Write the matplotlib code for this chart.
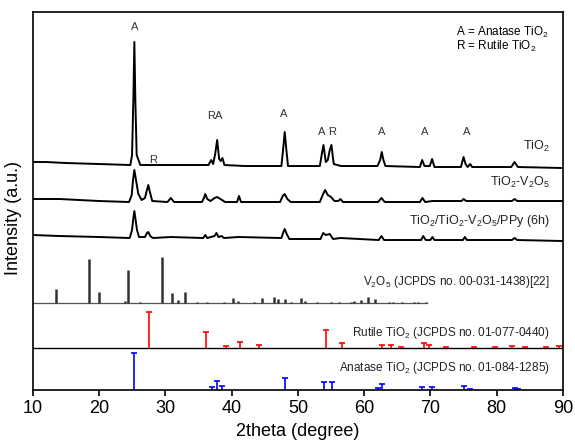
import matplotlib
matplotlib.use("Agg")
from matplotlib import pyplot as plt

plt.rcParams['font.family'] = ['Liberation Sans', 'DejaVu Sans']

# measured patterns (2theta, intensity offset a.u.)
tio2_x = [10, 12, 15, 20, 24.7, 24.95, 25.15, 25.3, 25.45, 25.65, 26.2, 30, 34, 36.5, 36.9, 37.2,
          37.5, 37.8, 38.1, 38.35, 38.6, 38.9, 42, 47.5, 47.75, 48.0, 48.25, 48.5, 53.3, 53.6, 53.85,
          54.2, 54.5, 54.8, 55.05, 55.4, 56.5, 62.0, 62.4, 62.65, 62.9, 63.2, 68.4, 68.75, 69.1, 69.9,
          70.25, 70.6, 74.6, 74.8, 75.0, 75.3, 75.6, 76.0, 76.3, 82.2, 82.7, 83.2, 90]
tio2_y = [228, 228, 227, 226, 225, 235, 290, 348, 290, 235, 225, 225, 225, 225, 230, 226,
          236, 250, 231, 229, 232, 225, 224, 224, 240, 258, 240, 224, 224, 236, 245,
          228, 230, 240, 245, 226, 224, 224, 230, 238, 230, 224, 223, 230, 224, 224,
          231, 223, 223, 228, 233, 226, 223, 226, 223, 223, 228, 223, 222]

tv_x = [10, 14, 20, 24.5, 24.9, 25.1, 25.3, 25.55, 25.9, 26.4, 26.9, 27.2, 27.4, 27.65, 28.0, 30.3,
        30.8, 31.3, 35.5, 35.8, 36.0, 36.3, 36.8, 37.4, 37.8, 38.3, 39, 40.8, 41.1, 41.4, 47.3, 47.7,
        48.0, 48.4, 48.9, 53.3, 53.8, 54.1, 54.5, 55.0, 55.5, 56.1, 56.4, 56.8, 62.1, 62.6, 63.1,
        68.4, 68.8, 69.2, 70.3, 74.7, 75.0, 75.4, 82.3, 82.7, 83.1, 90]
tv_y = [191, 191, 189, 188, 195, 210, 220, 210, 196, 190, 192, 200, 205, 198, 189, 188,
        192, 188, 188, 192, 196, 191, 189, 192, 193, 191, 188, 188, 194, 188, 188, 194,
        196, 191, 188, 188, 196, 200, 195, 193, 189, 189, 191, 188, 188, 192, 188,
        188, 192, 188, 189, 189, 191, 189, 189, 191, 189, 189]

ppy_x = [10, 14, 20, 24.6, 24.95, 25.15, 25.3, 25.45, 25.7, 26.0, 26.9, 27.2, 27.4, 27.7, 28.1,
         30.8, 35.7, 36.0, 36.3, 37.4, 37.7, 38.0, 38.5, 38.8, 41.0, 47.5, 47.8, 48.0, 48.3, 48.7,
         53.4, 53.8, 54.2, 54.8, 55.3, 56.4, 62.2, 62.6, 63.0, 68.6, 68.9, 69.3, 70.0, 70.3, 70.6,
         74.9, 75.2, 75.5, 82.3, 82.7, 83.1, 90]
ppy_y = [155, 154, 153, 152, 160, 172, 179, 172, 160, 153, 153, 157, 158, 154, 152,
         153, 152, 155, 152, 154, 157, 153, 154, 152, 153, 152, 158, 161, 156, 151,
         151, 157, 155, 156, 151, 152, 150, 154, 150, 150, 154, 150, 150, 153, 150,
         150, 153, 150, 150, 152, 150, 149]

# reference stick patterns
v2o5_pos = [13.5, 18.5, 20.0, 23.9, 24.4, 26.1, 29.5, 31.0, 31.9, 33.0, 34.8, 36.2, 38.9, 40.2,
            40.9, 43.3, 44.5, 46.4, 47.0, 48.0, 49.0, 50.4, 51.0, 52.9, 55.0, 56.2, 58.0, 58.5,
            59.5, 60.6, 61.7, 63.8, 64.4, 65.7, 67.5, 68.1, 69.4]
v2o5_h = [14, 44, 11, 2, 33, 1, 46, 10, 3, 11, 1, 1, 1, 5,
          2, 1, 5, 6, 4, 4, 1, 5, 2, 1, 1, 1, 1, 2,
          3, 6, 4, 1, 1, 1, 1, 1, 1]

rutile_pos = [27.5, 36.1, 39.2, 41.3, 44.1, 54.3, 56.6, 62.7, 64.0, 65.5, 69.0, 69.8, 72.4,
              76.5, 79.8, 82.3, 84.2, 87.4, 89.4]
rutile_h = [36, 16, 2, 6, 3, 18, 5, 3, 3, 1, 5, 3, 1, 1, 1, 2, 1, 1, 2]

anatase_pos = [25.3, 37.0, 37.8, 38.6, 48.1, 53.9, 55.1, 62.1, 62.7, 68.8, 70.3, 75.1, 75.9,
               82.7, 83.2]
anatase_h = [37, 3, 9, 4, 12, 8, 8, 2, 6, 3, 3, 4, 1, 2, 1]

peak_labels = ['A', 'R', 'RA', 'A', 'A', 'R', 'A', 'A', 'A']
peak_label_x = [25.3, 28.2, 37.5, 47.9, 53.6, 55.2, 62.6, 69.2, 75.4]
peak_label_y = [363, 230, 274, 276, 258, 258, 258, 258, 258]

v2o5_base = 87
rutile_base = 42
anatase_base = 0

fig = plt.figure(figsize=(5.75, 4.47), dpi=100)
ax = fig.add_axes([0.0574, 0.1275, 0.9216, 0.8456])

ax.plot(tio2_x, tio2_y, color='black', lw=1.4)
ax.plot(tv_x, tv_y, color='black', lw=1.4)
ax.plot(ppy_x, ppy_y, color='black', lw=1.4)

# V2O5 sticks
ax.plot([10, 69.5], [v2o5_base, v2o5_base], color='#555555', lw=0.9)
ax.vlines(v2o5_pos, v2o5_base, [v2o5_base + h for h in v2o5_h], color='#333333', lw=1.8)

# Rutile sticks
ax.axhline(rutile_base, color='black', lw=1.0)
rt = [rutile_base + h for h in rutile_h]
ax.vlines(rutile_pos, rutile_base, rt, color='red', lw=1.2)
ax.plot(rutile_pos, rt, ls='none', marker='_', ms=4, mew=1.2, color='red')

# Anatase sticks
at = [anatase_base + h for h in anatase_h]
ax.vlines(anatase_pos, anatase_base, at, color='blue', lw=1.2)
ax.plot(anatase_pos, at, ls='none', marker='_', ms=4, mew=1.2, color='blue')

for lab, x, y in zip(peak_labels, peak_label_x, peak_label_y):
    ax.text(x, y, lab, ha='center', va='center', fontsize=8, color='#333333')

lx = 88.0
ax.text(lx, 244, r'TiO$_\mathregular{2}$', ha='right', va='center', fontsize=9, color='#222222')
ax.text(lx, 208, r'TiO$_\mathregular{2}$-V$_\mathregular{2}$O$_\mathregular{5}$', ha='right',
        va='center', fontsize=9, color='#222222')
ax.text(lx, 169, r'TiO$_\mathregular{2}$/TiO$_\mathregular{2}$-V$_\mathregular{2}$O$_\mathregular{5}$/PPy (6h)',
        ha='right', va='center', fontsize=9, color='#222222')
ax.text(lx, 108, r'V$_\mathregular{2}$O$_\mathregular{5}$ (JCPDS no. 00-031-1438)[22]', ha='right',
        va='center', fontsize=8.5, color='#222222')
ax.text(lx, 57, r'Rutile TiO$_\mathregular{2}$ (JCPDS no. 01-077-0440)', ha='right', va='center',
        fontsize=8.5, color='#222222')
ax.text(lx, 22, r'Anatase TiO$_\mathregular{2}$ (JCPDS no. 01-084-1285)', ha='right', va='center',
        fontsize=8.5, color='#222222')

ax.text(73.8, 358, r'A = Anatase TiO$_\mathregular{2}$', ha='left', va='center', fontsize=8.5)
ax.text(73.8, 344, r'R = Rutile TiO$_\mathregular{2}$', ha='left', va='center', fontsize=8.5)

ax.set_xlim(10, 90)
ax.set_ylim(0, 378)
ax.set_xticks([10, 20, 30, 40, 50, 60, 70, 80, 90])
ax.set_yticks([])
ax.tick_params(axis='x', direction='out', length=4, width=1.2, labelsize=13)
for s in ax.spines.values():
    s.set_linewidth(1.2)

ax.set_xlabel('2theta (degree)', fontsize=13)
ax.set_ylabel('Intensity (a.u.)', fontsize=13)
ax.yaxis.set_label_coords(-0.02, 0.455)

fig.savefig('out.png', dpi=100)
